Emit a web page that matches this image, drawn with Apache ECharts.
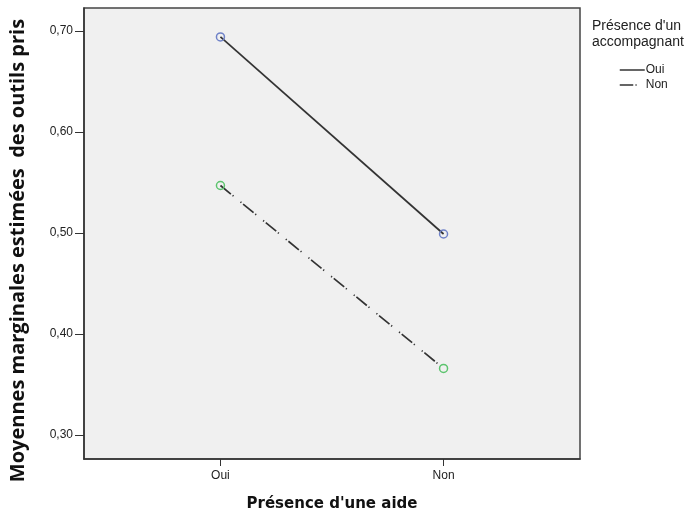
<!DOCTYPE html>
<html><head><meta charset="utf-8">
<script src="https://cdn.jsdelivr.net/npm/echarts@6/dist/echarts.min.js"></script>
<style>html,body{margin:0;padding:0;background:#fff}#c{width:695px;height:517px}</style>
</head><body><div id="c"></div>
<script>
var categories = ['Oui', 'Non'];
var seriesNames = ['Oui', 'Non'];
var valuesOui = [0.694, 0.499];
var valuesNon = [0.547, 0.366];
var yTicks = [0.3, 0.4, 0.5, 0.6, 0.7];
var yTickLabels = ['0,30', '0,40', '0,50', '0,60', '0,70'];

function toPts(vals){ return vals.map(function(v,i){ return [i, v]; }); }

var chart = echarts.init(document.getElementById('c'), null, {renderer:'canvas'});
chart.setOption({
  animation: false,
  backgroundColor: '#ffffff',
  title: {
    text: 'Présence d\'un\naccompagnant',
    left: 587, top: 13,
    textStyle: {fontFamily: 'Liberation Sans', fontSize: 14, fontWeight: 'normal', color: '#222', lineHeight: 16}
  },
  legend: {
    orient: 'vertical', left: 614, top: 59,
    itemWidth: 25, itemHeight: 8, itemGap: 3,
    data: seriesNames,
    textStyle: {fontFamily: 'Liberation Sans', fontSize: 12, color: '#222', padding: [0,0,0,-4]},
    itemStyle: {opacity: 0},
    lineStyle: {width: 1.5, color: '#333'}
  },
  grid: {left: 82, right: 115, top: 8, bottom: 55, show: true, backgroundColor: '#f0f0f0', borderColor: '#444', borderWidth: 1.5},
  xAxis: {
    type: 'value', min: -0.6116, max: 1.6116,
    name: 'Présence d\'une aide', nameLocation: 'middle', nameGap: 38,
    nameTextStyle: {fontFamily: 'DejaVu Sans', fontWeight: 'bold', fontSize: 15, color: '#111'},
    splitLine: {show: false},
    axisLine: {show: true, onZero: false, lineStyle: {color: '#333', width: 1.5}},
    axisTick: {show: true, customValues: [0, 1], length: 7, lineStyle: {color: '#333'}},
    axisLabel: {customValues: [0, 1], formatter: function(v){ return categories[Math.round(v)]; }, margin: 11,
      fontFamily: 'Liberation Sans', fontSize: 12, color: '#222'}
  },
  yAxis: {
    type: 'value', min: 0.2764, max: 0.7226,
    name: 'Moyennes marginales estimées  des outils pris', nameLocation: 'middle', nameGap: 56,
    nameTextStyle: {fontFamily: 'Open Sans', fontWeight: 'bold', fontSize: 20, color: '#111', padding: [0, 34, 0, 0]},
    splitLine: {show: false},
    axisLine: {show: true, onZero: false, lineStyle: {color: '#333', width: 1.5}},
    axisTick: {show: true, customValues: yTicks, length: 9, lineStyle: {color: '#333'}},
    axisLabel: {customValues: yTicks, formatter: function(v){ var i = yTicks.findIndex(function(t){return Math.abs(t-v)<1e-6;}); return i>=0 ? yTickLabels[i] : ''; },
      margin: 11, fontFamily: 'Liberation Sans', fontSize: 12, color: '#222'}
  },
  series: [
    {name: seriesNames[0], type: 'line', data: toPts(valuesOui), symbol: 'circle', symbolSize: 8,
      itemStyle: {color: 'rgba(0,0,0,0)', borderColor: '#6f82c8', borderWidth: 1.5},
      lineStyle: {color: '#333', width: 1.7, type: 'solid'}, z: 2},
    {name: seriesNames[1], type: 'line', data: toPts(valuesNon), symbol: 'circle', symbolSize: 8,
      itemStyle: {color: 'rgba(0,0,0,0)', borderColor: '#5cc46e', borderWidth: 1.5},
      lineStyle: {color: '#333', width: 1.7, type: [13.5, 2.2, 1.2, 9, 1.2, 2.2]}, z: 2}
  ]
});
</script></body></html>
